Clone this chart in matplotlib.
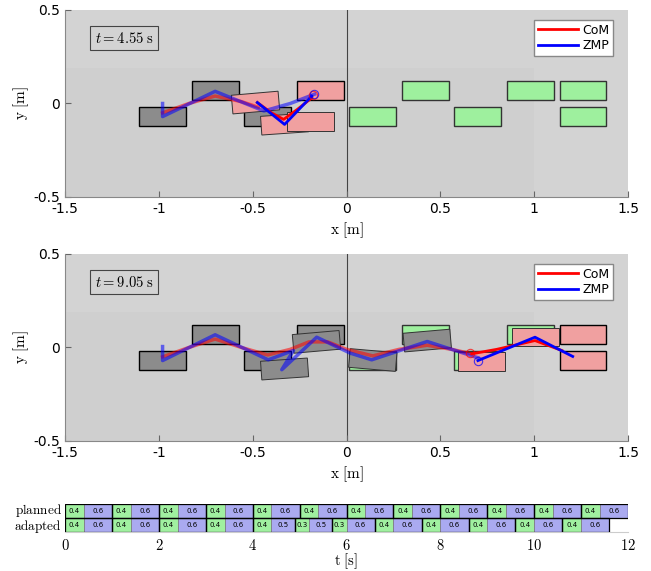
import numpy as np
import matplotlib.pyplot as plt
import matplotlib.patches as mpatches
from matplotlib.lines import Line2D

plt.rcParams['mathtext.fontset'] = 'cm'

# footstep size [m]
foot_w, foot_h = 0.25, 0.10

# planned footsteps (same in both snapshots)
plan_x = [-0.98, -0.70, -0.42, -0.14, 0.14, 0.42, 0.70, 0.98, 1.26, 1.26]
plan_y = [-0.07, 0.07, -0.07, 0.07, -0.07, 0.07, -0.07, 0.07, 0.07, -0.07]

# snapshot 1, t = 4.55 s
plan_state_1 = ['done', 'done', 'done', 'active', 'todo', 'todo', 'todo', 'todo', 'todo', 'todo']
adapt_x_1 = [-0.485, -0.33, -0.19]
adapt_y_1 = [0.005, -0.11, -0.095]
adapt_ang_1 = [5, 4, 0]
adapt_state_1 = ['active', 'active', 'active']
zmp_past_1 = [(-0.98, 0.0), (-0.98, -0.07), (-0.70, 0.065), (-0.44, -0.04), (-0.30, 0.0), (-0.17, 0.05)]
com_past_1 = [(-0.98, -0.05), (-0.84, 0.0), (-0.70, 0.04), (-0.56, 0.01), (-0.47, -0.02)]
zmp_prev_1 = [(-0.475, 0.005), (-0.33, -0.112), (-0.185, 0.04)]
com_prev_1 = [(-0.475, 0.005), (-0.40, -0.05), (-0.335, -0.085), (-0.26, -0.03), (-0.185, 0.03)]

# snapshot 2, t = 9.05 s
plan_state_2 = ['done', 'done', 'done', 'done', 'todo', 'todo', 'todo', 'todo', 'active', 'active']
adapt_x_2 = [-0.33, -0.16, 0.14, 0.43, 0.72, 1.005]
adapt_y_2 = [-0.115, 0.03, -0.067, 0.037, -0.075, 0.056]
adapt_ang_2 = [4, 5, -5, 5, 0, 0]
adapt_state_2 = ['done', 'done', 'done', 'done', 'active', 'active']
zmp_past_2 = [(-0.98, 0.005), (-0.98, -0.07), (-0.70, 0.068), (-0.417, -0.066), (-0.283, -0.016),
              (-0.345, -0.119), (-0.159, 0.055), (0.019, -0.03), (0.134, -0.066), (0.43, 0.032),
              (0.70, -0.055)]
com_past_2 = [(-0.98, -0.05), (-0.84, 0.0), (-0.70, 0.045), (-0.56, 0.0), (-0.42, -0.04),
              (-0.30, -0.01), (-0.20, 0.03), (-0.10, 0.03), (0.0, -0.01), (0.14, -0.045),
              (0.28, -0.01), (0.43, 0.012), (0.56, -0.01), (0.667, -0.034)]
zmp_prev_2 = [(0.70, -0.07), (1.004, 0.055), (1.205, -0.048)]
com_prev_2 = [(0.667, -0.034), (0.80, -0.01), (1.004, 0.037), (1.147, -0.016)]

# step timing [s]
planned_dur = [0.4, 0.6] * 12
adapted_dur = [0.4, 0.6, 0.4, 0.6, 0.4, 0.6, 0.4, 0.6, 0.4, 0.5, 0.3, 0.5, 0.3,
               0.6, 0.4, 0.6, 0.4, 0.6, 0.4, 0.6, 0.4, 0.6, 0.4, 0.6]

face = {'done': '#8c8c8c', 'active': '#f0a0a0', 'todo': '#9ef09e'}


def draw_foot(ax, x, y, ang, state, lw, ec):
    r = mpatches.Rectangle((x - foot_w / 2, y - foot_h / 2), foot_w, foot_h, angle=ang,
                           rotation_point='center', facecolor=face[state], edgecolor=ec,
                           linewidth=lw, zorder=3)
    ax.add_patch(r)


def draw_panel(ax, label, plan_state, ax_x, ay, aang, astate, zp, cp, zv, cv, circles):
    ax.set_facecolor('#d3d3d3')
    ax.add_patch(mpatches.Rectangle((-1.5, -0.5), 2.5, 0.69, facecolor='#cfcfcf',
                                    edgecolor='none', zorder=0))
    ax.axvline(0, color='#444444', linewidth=0.8, zorder=1)
    for x, y, s in zip(plan_x, plan_y, plan_state):
        draw_foot(ax, x, y, 0, s, 1.0, 'black' if s != 'todo' else '#333333')
    for x, y, a, s in zip(ax_x, ay, aang, astate):
        draw_foot(ax, x, y, a, s, 0.7, '#333333')
    zp, cp, zv, cv = [np.array(p) for p in (zp, cp, zv, cv)]
    ax.plot(cp[:, 0], cp[:, 1], color='red', lw=2.5, alpha=0.55, zorder=4)
    ax.plot(zp[:, 0], zp[:, 1], color='blue', lw=2.5, alpha=0.55, zorder=4)
    ax.plot(cv[:, 0], cv[:, 1], color='red', lw=2, zorder=5)
    ax.plot(zv[:, 0], zv[:, 1], color='blue', lw=2, zorder=5)
    for (x, y), c in circles:
        ax.plot(x, y, 'o', ms=6, mfc='none', mec=c, mew=0.8, alpha=0.7, zorder=6)

    ax.set_xlim(-1.5, 1.5)
    ax.set_ylim(-0.5, 0.5)
    ax.set_xticks([-1.5, -1, -0.5, 0, 0.5, 1, 1.5])
    ax.set_xticklabels(['-1.5', '-1', '-0.5', '0', '0.5', '1', '1.5'])
    ax.set_yticks([-0.5, 0, 0.5])
    ax.set_yticklabels(['-0.5', '0', '0.5'])
    ax.tick_params(direction='in', length=4, color='#666666', labelsize=10)
    for s in ['top', 'right']:
        ax.spines[s].set_visible(False)
    for s in ['left', 'bottom']:
        ax.spines[s].set_color('#888888')
    ax.set_xlabel(r'$\mathrm{x\ [m]}$', fontsize=11, labelpad=3)
    ax.set_ylabel(r'$\mathrm{y\ [m]}$', fontsize=11, labelpad=2)
    ax.text(0.105, 0.85, label, transform=ax.transAxes, ha='center', va='center', fontsize=10.5,
            bbox=dict(boxstyle='square,pad=0.3', facecolor='none', edgecolor='#444444', lw=0.8))
    handles = [Line2D([], [], color='red', lw=2, label='CoM'),
               Line2D([], [], color='blue', lw=2, label='ZMP')]
    ax.legend(handles=handles, loc='upper right', bbox_to_anchor=(0.985, 0.98), fontsize=9,
              fancybox=False, edgecolor='#888888', framealpha=1, handlelength=3.2,
              borderpad=0.3, labelspacing=0.2, handletextpad=0.4)


fig = plt.figure(figsize=(6.51, 5.71), dpi=100)
ax1 = fig.add_axes([0.0998, 0.655, 0.865, 0.3275])
ax2 = fig.add_axes([0.0998, 0.2277, 0.865, 0.3275])
ax3 = fig.add_axes([0.0998, 0.0683, 0.865, 0.049])

draw_panel(ax1, r'$t = 4.55\ \mathrm{s}$', plan_state_1, adapt_x_1, adapt_y_1, adapt_ang_1,
           adapt_state_1, zmp_past_1, com_past_1, zmp_prev_1, com_prev_1,
           [((-0.18, 0.045), 'red'), ((-0.175, 0.05), 'blue')])
draw_panel(ax2, r'$t = 9.05\ \mathrm{s}$', plan_state_2, adapt_x_2, adapt_y_2, adapt_ang_2,
           adapt_state_2, zmp_past_2, com_past_2, zmp_prev_2, com_prev_2,
           [((0.66, -0.028), 'red'), ((0.70, -0.07), 'blue')])

# timeline of step durations
green, blue = '#a0f0a0', '#aaaaf0'
for row_y, durs in [(1.5, planned_dur), (0.5, adapted_dur)]:
    starts = np.concatenate([[0], np.cumsum(durs)[:-1]])
    cols = [green if i % 2 == 0 else blue for i in range(len(durs))]
    ax3.barh(row_y, durs, left=starts, height=1, color=cols, edgecolor='#777777', linewidth=0.5)
    for s, d in zip(starts, durs):
        ax3.text(s + d / 2, row_y, f'{d:.1f}', ha='center', va='center', fontsize=5)
    # pair outlines
    for i in range(0, len(durs), 2):
        w = sum(durs[i:i + 2])
        ax3.add_patch(mpatches.Rectangle((starts[i], row_y - 0.5), w, 1, facecolor='none',
                                         edgecolor='black', linewidth=0.9, zorder=3))
ax3.set_xlim(0, 12)
ax3.set_ylim(0, 2)
ax3.set_yticks([])
ax3.set_xticks(range(0, 13, 2))
ax3.set_xticklabels([rf'${v}$' for v in range(0, 13, 2)], fontsize=10.5)
ax3.tick_params(length=0, pad=4)
for s in ['top', 'right', 'left']:
    ax3.spines[s].set_visible(False)
ax3.spines['bottom'].set_color('#cccccc')
ax3.text(-0.06, 1.55, r'$\mathrm{planned}$', ha='right', va='center', fontsize=9.5)
ax3.text(-0.06, 0.42, r'$\mathrm{adapted}$', ha='right', va='center', fontsize=9.5)
ax3.set_xlabel(r'$\mathrm{t\ [s]}$', fontsize=10.5, labelpad=-1)

plt.savefig('out.png', dpi=100)
